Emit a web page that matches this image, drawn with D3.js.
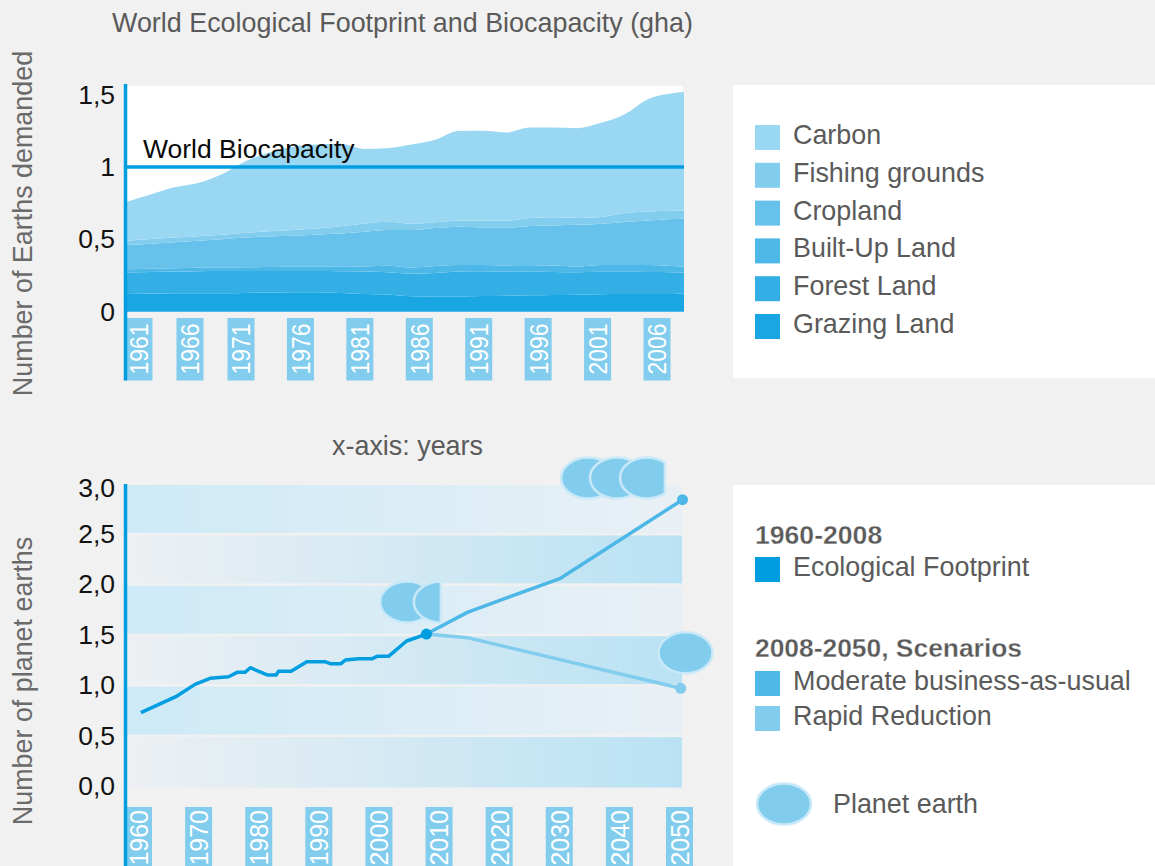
<!DOCTYPE html>
<html>
<head>
<meta charset="utf-8">
<title>World Ecological Footprint and Biocapacity</title>
<script src="https://cdnjs.cloudflare.com/ajax/libs/d3/7.8.5/d3.min.js"></script>
<style>
  html, body { margin: 0; padding: 0; background: #f1f1f1; overflow: hidden; }
  svg { display: block; font-family: "Liberation Sans", Arial, sans-serif; }
</style>
</head>
<body>
<div id="chart"></div>
<script>
// data, top chart: demand per land type, in earths
var footprintYears = [1961, 1963, 1965, 1967, 1969, 1971, 1973, 1975, 1977, 1979, 1981, 1983, 1985, 1987, 1989, 1991, 1993, 1995, 1997, 1999, 2001, 2003, 2005, 2007, 2008];
var grazing = [0.122, 0.125, 0.127, 0.128, 0.128, 0.130, 0.132, 0.134, 0.135, 0.130, 0.122, 0.118, 0.106, 0.104, 0.104, 0.108, 0.111, 0.113, 0.115, 0.117, 0.121, 0.123, 0.122, 0.123, 0.124];
var forest = [0.148, 0.150, 0.151, 0.152, 0.153, 0.151, 0.149, 0.147, 0.146, 0.150, 0.156, 0.154, 0.156, 0.164, 0.174, 0.172, 0.166, 0.163, 0.160, 0.156, 0.155, 0.153, 0.152, 0.149, 0.146];
var builtUp = [0.023, 0.022, 0.022, 0.023, 0.024, 0.026, 0.028, 0.030, 0.030, 0.030, 0.034, 0.046, 0.043, 0.047, 0.044, 0.042, 0.041, 0.040, 0.045, 0.039, 0.046, 0.046, 0.048, 0.044, 0.042];
var cropland = [0.168, 0.173, 0.180, 0.187, 0.195, 0.205, 0.211, 0.214, 0.221, 0.230, 0.240, 0.247, 0.260, 0.263, 0.265, 0.260, 0.262, 0.276, 0.276, 0.288, 0.286, 0.298, 0.308, 0.324, 0.331];
var fishing = [0.030, 0.032, 0.032, 0.032, 0.032, 0.033, 0.035, 0.040, 0.043, 0.050, 0.058, 0.057, 0.043, 0.040, 0.043, 0.048, 0.048, 0.056, 0.056, 0.048, 0.046, 0.062, 0.062, 0.058, 0.055];
var carbon = [0.269, 0.308, 0.348, 0.368, 0.418, 0.495, 0.545, 0.575, 0.580, 0.570, 0.515, 0.508, 0.547, 0.570, 0.618, 0.620, 0.610, 0.624, 0.620, 0.620, 0.651, 0.683, 0.778, 0.812, 0.820];
var biocapacity = 1;
var topTicks = [0, 0.5, 1, 1.5];
var topTickLabels = ['0', '0,5', '1', '1,5'];
var topYearLabels = [1961, 1966, 1971, 1976, 1981, 1986, 1991, 1996, 2001, 2006];

// legend top chart, stacking order is the reverse of this list
var layerNames = ['Carbon', 'Fishing grounds', 'Cropland', 'Built-Up Land', 'Forest Land', 'Grazing Land'];
var layerValues = [carbon, fishing, cropland, builtUp, forest, grazing];

// data, bottom chart
var historyYears = [1960.4, 1966.4, 1969.4, 1971.9, 1975, 1976.4, 1977.7, 1978.6, 1981.4, 1982.9, 1983.3, 1985.4, 1988, 1991, 1991.9, 1993.7, 1994.4, 1996.6, 1998.9, 1999.7, 2001.6, 2004.6, 2007.9];
var historyValues = [0.742, 0.907, 1.023, 1.083, 1.099, 1.142, 1.142, 1.188, 1.116, 1.116, 1.152, 1.152, 1.248, 1.248, 1.228, 1.228, 1.265, 1.278, 1.278, 1.301, 1.301, 1.453, 1.522];
var moderateYears = [2007.9, 2014.7, 2030.2, 2050.5];
var moderateValues = [1.522, 1.737, 2.075, 2.854];
var rapidYears = [2007.9, 2014.7, 2050.2];
var rapidValues = [1.522, 1.486, 0.984];
var bottomBands = [0, 0.5, 1, 1.5, 2, 2.5];
var bottomTicks = [0, 0.5, 1, 1.5, 2, 2.5, 3];
var bottomYearLabels = [1960, 1970, 1980, 1990, 2000, 2010, 2020, 2030, 2040, 2050];

// planets floating over the lines, part = share of the ellipse that is shown
var planetYears = [2004.7, 2010.3, 2034.8, 2039.6, 2044.6, 2051];
var planetValues = [1.84, 1.84, 3.07, 3.07, 3.07, 1.337];
var planetParts = [1, 0.5, 1, 1, 0.83, 1];

// colours
var axisColor = '#009ee0';
var labelBox = '#82cdee';
var textGrey = '#5a5a5a';
var layerColors = ['#9ad7f3', '#82cdee', '#66c2eb', '#4db8e8', '#33afe5', '#1aa6e2'];
var moderateColor = '#4db8e8';
var rapidColor = '#82cdee';
var planetStroke = '#c9e9f8';

var width = 1155;
var height = 866;

var svg = d3.select('#chart').append('svg')
  .attr('width', width)
  .attr('height', height);

svg.append('rect')
  .attr('width', width)
  .attr('height', height)
  .attr('fill', '#f1f1f1');

// legend panels
svg.append('rect').attr('x', 733).attr('y', 85).attr('width', 422).attr('height', 293).attr('fill', '#fff');
svg.append('rect').attr('x', 733).attr('y', 485).attr('width', 422).attr('height', 381).attr('fill', '#fff');

// gradients of the bottom bands
var defs = svg.append('defs');
function addGradient(id, from, to) {
  var g = defs.append('linearGradient').attr('id', id);
  g.append('stop').attr('offset', '0%').attr('stop-color', from);
  g.append('stop').attr('offset', '100%').attr('stop-color', to);
}
addGradient('bandA', '#edf0f3', '#b9e2f4');
addGradient('bandB', '#cdeaf7', '#e9f0f5');

// ---- top chart ----
var xTop = d3.scaleLinear().domain([1961, 2008]).range([127, 684]);
// the first labels are pushed to the right in the original, so the label scale is piecewise
var xTopLabel = d3.scaleLinear().domain([1961, 1971, 2006]).range([139, 241, 657]);
var yTop = d3.scaleLinear().domain([0, 1.5]).range([311.7, 94.6]);

svg.append('rect')
  .attr('x', xTop(1961))
  .attr('y', 86)
  .attr('width', xTop(2008) - xTop(1961) - 1)
  .attr('height', yTop(0) - 86)
  .attr('fill', '#fff');

var rows = footprintYears.map(function(year, i) {
  var row = { year: year };
  layerNames.forEach(function(name, k) {
    row[name] = layerValues[k][i];
  });
  return row;
});

var stack = d3.stack().keys(layerNames.slice().reverse());
var area = d3.area()
  .x(function(d) { return xTop(d.data.year); })
  .y0(function(d) { return yTop(d[0]); })
  .y1(function(d) { return yTop(d[1]); })
  .curve(d3.curveMonotoneX);

svg.append('g').selectAll('path')
  .data(stack(rows))
  .join('path')
  .attr('d', area)
  .attr('fill', function(d) {
    return layerColors[layerNames.indexOf(d.key)];
  });

// world biocapacity line
svg.append('line')
  .attr('x1', xTop(1961))
  .attr('x2', xTop(2008))
  .attr('y1', yTop(biocapacity))
  .attr('y2', yTop(biocapacity))
  .attr('stroke', axisColor)
  .attr('stroke-width', 3.5);

svg.append('text')
  .attr('x', 143)
  .attr('y', 158)
  .attr('font-size', 26.5)
  .attr('fill', '#0a0a0a')
  .text('World Biocapacity');

// year labels on their blue boxes
function yearLabels(scale, years, boxTop, boxBottom, textY, anchor, xStretch) {
  svg.append('g').selectAll('rect')
    .data(years)
    .join('rect')
    .attr('x', function(d) { return scale(d) - 13.5; })
    .attr('y', boxTop)
    .attr('width', 27)
    .attr('height', boxBottom - boxTop)
    .attr('fill', labelBox);

  var axis = d3.axisBottom(scale)
    .tickValues(years)
    .tickFormat(d3.format('d'))
    .tickSize(0);

  var g = svg.append('g')
    .attr('transform', 'translate(0,' + textY + ')')
    .call(axis);
  g.select('.domain').remove();
  g.selectAll('text')
    .attr('transform', 'rotate(-90) scale(' + xStretch + ',1)')
    .attr('x', 0)
    .attr('y', 0)
    .attr('dy', '.35em')
    .attr('text-anchor', anchor)
    .attr('font-family', '"Liberation Sans", Arial, sans-serif')
    .attr('font-size', 25.5)
    .attr('fill', '#fff');
}
yearLabels(xTopLabel, topYearLabels, 318, 380.5, 349, 'middle', 0.9);

// y ticks
var topAxis = d3.axisLeft(yTop)
  .tickValues(topTicks)
  .tickSize(0)
  .tickFormat(function(d, i) { return topTickLabels[i]; });
var topAxisG = svg.append('g')
  .attr('transform', 'translate(115,0)')
  .call(topAxis);
topAxisG.select('.domain').remove();
topAxisG.selectAll('text')
  .attr('x', 0)
  .attr('font-family', '"Liberation Sans", Arial, sans-serif')
  .attr('font-size', 26.5)
  .attr('fill', '#111');

svg.append('line')
  .attr('x1', 125.5).attr('x2', 125.5)
  .attr('y1', 84).attr('y2', 380.5)
  .attr('stroke', axisColor)
  .attr('stroke-width', 3.5);

// ---- bottom chart ----
var xBottom = d3.scaleLinear().domain([1960, 2050]).range([138.5, 679.5]);
var yBottom = d3.scaleLinear().domain([0, 3]).range([787.5, 485]);

svg.append('g').selectAll('rect')
  .data(bottomBands)
  .join('rect')
  .attr('x', 127)
  .attr('width', 555)
  .attr('y', function(d) { return yBottom(d + 0.5); })
  .attr('height', function(d) {
    // white gap under every band but the lowest
    return yBottom(d) - yBottom(d + 0.5) - (d === 0 ? 0 : 2.5);
  })
  .attr('fill', function(d, i) {
    return i % 2 === 0 ? 'url(#bandA)' : 'url(#bandB)';
  });

yearLabels(xBottom, bottomYearLabels, 807, 866, 810, 'end', 0.98);

var line = d3.line()
  .x(function(d) { return xBottom(d[0]); })
  .y(function(d) { return yBottom(d[1]); });

function drawLine(years, values, color, dotIndex) {
  svg.append('path')
    .attr('d', line(d3.zip(years, values)))
    .attr('fill', 'none')
    .attr('stroke', color)
    .attr('stroke-width', 3.5)
    .attr('stroke-linejoin', 'round');
  svg.append('circle')
    .attr('cx', xBottom(years[dotIndex]))
    .attr('cy', yBottom(values[dotIndex]))
    .attr('r', 5.5)
    .attr('fill', color);
}
drawLine(rapidYears, rapidValues, rapidColor, 2);
drawLine(moderateYears, moderateValues, moderateColor, 3);
drawLine(historyYears, historyValues, axisColor, 22);

// one ellipse, cut on the right side when it is only partly shown
function planet(parent, cx, cy, part) {
  var rx = 27;
  var ry = 20.5;
  if (part >= 1) {
    parent.append('ellipse')
      .attr('cx', cx).attr('cy', cy)
      .attr('rx', rx).attr('ry', ry)
      .attr('fill', rapidColor)
      .attr('stroke', planetStroke)
      .attr('stroke-width', 2.5);
    return;
  }
  var dx = rx * (2 * part - 1);
  var h = ry * Math.sqrt(1 - (dx * dx) / (rx * rx));
  var large = dx > 0 ? 1 : 0;
  parent.append('path')
    .attr('d', 'M' + (cx + dx) + ',' + (cy - h) +
      'A' + rx + ',' + ry + ' 0 ' + large + ' 0 ' + (cx + dx) + ',' + (cy + h) + 'Z')
    .attr('fill', rapidColor)
    .attr('stroke', planetStroke)
    .attr('stroke-width', 2.5);
}

var planetLayer = svg.append('g');
planetYears.forEach(function(year, i) {
  planet(planetLayer, xBottom(year), yBottom(planetValues[i]), planetParts[i]);
});

var bottomAxis = d3.axisLeft(yBottom)
  .tickValues(bottomTicks)
  .tickSize(0)
  .tickFormat(function(d) { return d3.format('.1f')(d).replace('.', ','); });
var bottomAxisG = svg.append('g')
  .attr('transform', 'translate(115,0)')
  .call(bottomAxis);
bottomAxisG.select('.domain').remove();
bottomAxisG.selectAll('text')
  .attr('x', 0)
  // labels sit a little above their band edge, the top one a little below it
  .attr('y', function(d) { return d === 3 ? 3 : -1.5; })
  .attr('font-family', '"Liberation Sans", Arial, sans-serif')
  .attr('font-size', 26.5)
  .attr('fill', '#111');

svg.append('line')
  .attr('x1', 125.5).attr('x2', 125.5)
  .attr('y1', 484).attr('y2', 866)
  .attr('stroke', axisColor)
  .attr('stroke-width', 3.5);

// ---- titles ----
function greyText(x, y, str, size, weight) {
  return svg.append('text')
    .attr('x', x)
    .attr('y', y)
    .attr('font-size', size)
    .attr('font-weight', weight || 'normal')
    .attr('fill', textGrey)
    .text(str);
}
greyText(112, 32, 'World Ecological Footprint and Biocapacity (gha)', 26.9);
greyText(407.5, 455, 'x-axis: years', 26.9).attr('text-anchor', 'middle');

function yTitle(yMid, str) {
  svg.append('text')
    .attr('transform', 'translate(32,' + yMid + ') rotate(-90)')
    .attr('text-anchor', 'middle')
    .attr('font-size', 26.9)
    .attr('fill', '#6a6a6a')
    .text(str);
}
yTitle(223.5, 'Number of Earths demanded');
yTitle(681, 'Number of planet earths');

// ---- legends ----
var legendY = d3.scaleLinear().domain([0, 5]).range([125, 314]);
layerNames.forEach(function(name, i) {
  svg.append('rect')
    .attr('x', 755)
    .attr('y', legendY(i))
    .attr('width', 25)
    .attr('height', 25)
    .attr('fill', layerColors[i]);
  greyText(793, legendY(i) + 19, name, 26.9);
});

function swatch(y, color, str) {
  svg.append('rect')
    .attr('x', 755)
    .attr('y', y)
    .attr('width', 25)
    .attr('height', 25)
    .attr('fill', color);
  greyText(793, y + 19, str, 26.9);
}
greyText(755, 544, '1960-2008', 26.6, 'bold').attr('stroke', '#fff').attr('stroke-width', 0.3);
swatch(557, axisColor, 'Ecological Footprint');
greyText(755, 657, '2008-2050, Scenarios', 26.4, 'bold').attr('stroke', '#fff').attr('stroke-width', 0.3);
swatch(671, moderateColor, 'Moderate business-as-usual');
swatch(706, rapidColor, 'Rapid Reduction');

planet(svg, 784, 804, 1);
greyText(833, 813, 'Planet earth', 26.9);
</script>
</body>
</html>
